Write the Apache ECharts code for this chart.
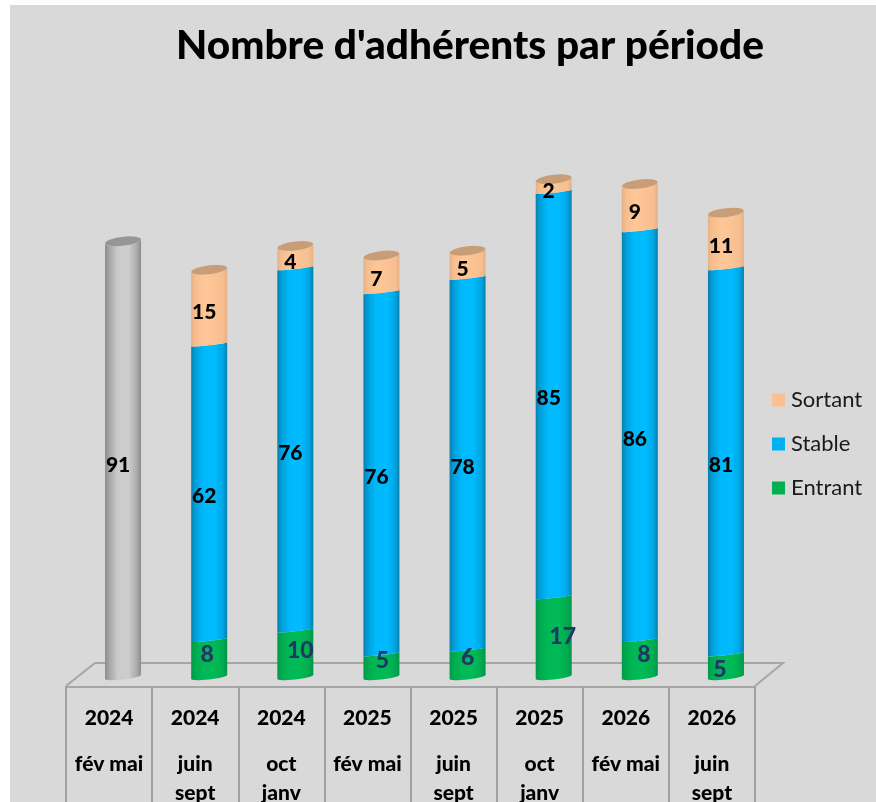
<!DOCTYPE html>
<html lang="fr">
<head>
<meta charset="utf-8">
<title>Nombre d'adhérents par période</title>
<script src="https://cdn.jsdelivr.net/npm/echarts@6/dist/echarts.min.js"></script>
<style>
  html, body { margin: 0; padding: 0; background: #fff; overflow: hidden; }
  #chart { width: 876px; height: 802px; }
</style>
</head>
<body>
<div id="chart"></div>
<script>
const years = ['2024', '2024', '2024', '2025', '2025', '2025', '2026', '2026'];
const periods = ['fév mai', 'juin\nsept', 'oct\njanv', 'fév mai', 'juin\nsept', 'oct\njanv', 'fév mai', 'juin\nsept'];

const initial = [91, null, null, null, null, null, null, null];
const entrant = [null, 8, 10, 5, 6, 17, 8, 5];
const stable = [null, 62, 76, 76, 78, 85, 86, 81];
const sortant = [null, 15, 4, 7, 5, 2, 9, 11];

// hand placed label nudges, the labels of the original are not centred
const entrantDx = [0, -2, 5, 1, 0, 9, 4, -6];
const entrantDy = [0, -4, -4, -6, -6, -1, -4, 3];

const halfBar = 18;

function shade(stops) {
  return {
    type: 'linear', x: 0, y: 0, x2: 1, y2: 0,
    colorStops: stops.map(c => ({ offset: c[0], color: c[1] }))
  };
}

const fills = {
  initial: shade([[0, '#8a8a8a'], [0.12, '#a6a6a6'], [0.35, '#cbcbcb'], [0.65, '#cdcdcd'], [0.88, '#ababab'], [1, '#8c8c8c']]),
  entrant: shade([[0, '#009a49'], [0.12, '#00aa4e'], [0.35, '#00b956'], [0.65, '#00ba56'], [0.88, '#00ab4f'], [1, '#00964a']]),
  stable: shade([[0, '#0a7fae'], [0.12, '#00a0db'], [0.35, '#00b9fd'], [0.65, '#00bbff'], [0.88, '#00a6e4'], [1, '#067fab']]),
  sortant: shade([[0, '#e5b085'], [0.12, '#f7bf90'], [0.4, '#ffc796'], [0.88, '#f7bf90'], [1, '#e6b186']])
};
const caps = { initial: '#969696', sortant: '#c99d76' };

// start, end and value of each segment, stacked from the arrays above
function segments(values, below) {
  const rows = [];
  values.forEach((v, i) => {
    if (v === null) return;
    const start = below.reduce((sum, arr) => sum + (arr[i] || 0), 0);
    rows.push([i, start, start + v, v]);
  });
  return rows;
}

// slightly tilted elliptical arc, angles in radians
function arc(cx, cy, from, to, sag) {
  const pts = [];
  for (let k = 0; k <= 16; k += 1) {
    const t = from + (to - from) * k / 16;
    const u = Math.cos(t);
    pts.push([cx + halfBar * u, cy - 2 * u + sag * Math.sin(t)]);
  }
  return pts;
}

function cylinder(name, opts) {
  return function (params, api) {
    const i = api.value(0);
    const bottom = api.coord([i, api.value(1)]);
    const top = api.coord([i, api.value(2)]);
    const cx = bottom[0];
    const topY = opts.cap ? top[1] - 3 : top[1];
    const onFloor = api.value(1) === 0;
    const bottomY = onFloor ? bottom[1] - 1 : bottom[1];
    // lower edge from left to right, then upper edge back to the left
    const lower = arc(cx, bottomY, Math.PI, 0, onFloor ? 2.5 : 1);
    const upper = arc(cx, topY, 0, Math.PI, opts.cap ? 4.5 : 1);
    const children = [{
      type: 'polygon',
      shape: { points: lower.concat(upper) },
      style: { fill: fills[name] }
    }];
    if (opts.cap) {
      children.push({
        type: 'polygon',
        shape: { points: arc(cx, topY, 0, Math.PI * 2, 4.5) },
        style: { fill: caps[name] }
      });
    }
    const dx = opts.dx ? opts.dx[i] : -5;
    const dy = opts.dy ? opts.dy[i] : 4;
    children.push({
      type: 'text',
      z2: 10,
      style: {
        text: String(api.value(3)),
        x: cx + dx,
        y: (bottom[1] + top[1]) / 2 + dy,
        align: 'center',
        verticalAlign: 'middle',
        fill: opts.labelColor,
        font: opts.labelFont
      }
    });
    return { type: 'group', children };
  };
}

const blackLabel = '900 21px Lato';
const navyLabel = '900 23px Lato';

const chart = echarts.init(document.getElementById('chart'));
chart.setOption({
  animation: false,
  backgroundColor: '#fff',
  title: {
    text: "Nombre d'adhérents par période",
    left: 171,
    top: 20,
    textStyle: { fontFamily: 'Lato', fontWeight: 900, fontSize: 40.6, color: '#000' }
  },
  legend: {
    orient: 'vertical',
    left: 767,
    top: 384,
    itemWidth: 13,
    itemHeight: 13,
    itemGap: 22,
    icon: 'rect',
    data: ['Sortant', 'Stable', 'Entrant'],
    textStyle: { fontFamily: 'Lato', fontSize: 22, color: '#1a1a1a', padding: [0, 0, 0, 1] }
  },
  grid: [
    { left: 80, width: 689, top: 106, height: 572 },
    { left: 66, width: 689, top: 686, height: 1 }
  ],
  xAxis: [
    {
      type: 'category',
      gridIndex: 0,
      data: years.map((y, i) => y + i),
      axisLine: { show: false },
      axisTick: { show: false },
      axisLabel: { show: false }
    },
    {
      type: 'category',
      gridIndex: 1,
      position: 'top',
      data: years.map((y, i) => '{y|' + y + '}\n{g| }\n' + periods[i].split('\n').map(p => '{m|' + p + '}').join('\n')),
      axisLine: { lineStyle: { color: '#a6a6a6', width: 2 } },
      axisTick: { show: true, inside: true, length: 118, lineStyle: { color: '#a0a0a0', width: 2 } },
      axisLabel: {
        interval: 0,
        inside: true,
        margin: 17,
        verticalAlign: 'top',
        rich: {
          y: { fontFamily: 'Lato', fontWeight: 900, fontSize: 21, color: '#000', lineHeight: 30 },
          g: { fontSize: 10, lineHeight: 17 },
          m: { fontFamily: 'Lato', fontWeight: 900, fontSize: 21, color: '#000', lineHeight: 29 }
        }
      }
    }
  ],
  yAxis: [
    { type: 'value', gridIndex: 0, min: 0, max: 120, show: false },
    { type: 'value', gridIndex: 1, show: false }
  ],
  graphic: [
    {
      type: 'rect',
      z: -10,
      shape: { x: 10, y: 5, width: 866, height: 797 },
      style: { fill: '#d9d9d9' }
    },
    {
      type: 'polyline',
      z: -5,
      shape: { points: [[66, 686], [95, 663], [783, 663], [755, 686]] },
      style: { fill: null, stroke: '#a6a6a6', lineWidth: 2 }
    }
  ],
  series: [
    {
      name: 'Initial',
      type: 'custom',
      renderItem: cylinder('initial', { cap: true, labelColor: '#000', labelFont: blackLabel }),
      itemStyle: { color: '#bfbfbf' },
      encode: { x: 0, y: [1, 2] },
      data: segments(initial, [])
    },
    {
      name: 'Entrant',
      type: 'custom',
      renderItem: cylinder('entrant', { dx: entrantDx, dy: entrantDy, labelColor: '#1f3864', labelFont: navyLabel }),
      itemStyle: { color: '#00b050' },
      encode: { x: 0, y: [1, 2] },
      data: segments(entrant, [])
    },
    {
      name: 'Stable',
      type: 'custom',
      renderItem: cylinder('stable', { labelColor: '#000', labelFont: blackLabel }),
      itemStyle: { color: '#00b0f0' },
      encode: { x: 0, y: [1, 2] },
      data: segments(stable, [entrant])
    },
    {
      name: 'Sortant',
      type: 'custom',
      renderItem: cylinder('sortant', { cap: true, labelColor: '#000', labelFont: blackLabel }),
      itemStyle: { color: '#fac090' },
      encode: { x: 0, y: [1, 2] },
      data: segments(sortant, [entrant, stable])
    }
  ]
});
</script>
</body>
</html>
